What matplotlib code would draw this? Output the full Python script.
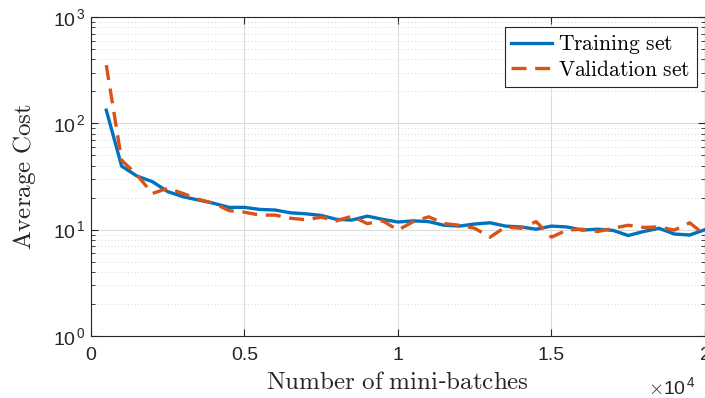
import matplotlib
matplotlib.use("Agg")
import matplotlib.pyplot as plt
import numpy as np
from matplotlib.ticker import FixedLocator, LogLocator, NullFormatter

plt.rcParams['font.family'] = ['Liberation Sans', 'DejaVu Sans']
plt.rcParams['mathtext.fontset'] = 'cm'

# mini-batch counts and average cost
batches = np.arange(500, 20001, 500)
train_cost = [133, 39.6, 31.9, 28.3, 22.8, 20.4, 19.0, 17.7, 16.2, 16.2,
              15.5, 15.3, 14.4, 14.1, 13.6, 12.5, 12.3, 13.4, 12.5, 11.8,
              12.1, 11.9, 11.0, 10.8, 11.3, 11.6, 10.8, 10.6, 10.1, 10.8,
              10.6, 9.9, 10.1, 9.85, 8.8, 9.6, 10.3, 9.1, 8.9, 10.0]
val_cost = [353, 45, 32.7, 21.9, 24.5, 21.9, 19.3, 17.7, 15.1, 14.6,
            13.7, 13.7, 12.8, 12.4, 13.1, 12.1, 13.4, 11.4, 12.1, 9.9,
            11.9, 13.2, 11.4, 11.0, 10.3, 8.5, 10.6, 10.3, 11.9, 8.5,
            9.9, 10.1, 9.6, 10.3, 11.0, 10.5, 10.6, 9.9, 11.6, 8.9]

xticks = [0, 5000, 10000, 15000, 20000]
xticklabels = ["0", "0.5", "1", "1.5", "2"]
yticks = [1, 10, 100, 1000]
yticklabels = [r"$\mathregular{10^{\,%d}}$" % i for i in range(4)]

fig = plt.figure(figsize=(7.05, 3.98), dpi=100)
ax = fig.add_axes([0.129, 0.156, 0.871, 0.801])

ax.plot(batches, train_cost, color='#0072BD', lw=2.4, label='Training set')
ax.plot(batches, val_cost, color='#D95319', lw=2.4, ls=(0, (4.5, 2.6)),
        label='Validation set')

ax.set_yscale('log')
ax.set_xlim(0, 20000)
ax.set_ylim(1, 1000)
ax.xaxis.set_major_locator(FixedLocator(xticks))
ax.set_xticklabels(xticklabels)
ax.yaxis.set_major_locator(FixedLocator(yticks))
ax.set_yticklabels(yticklabels)
ax.yaxis.set_minor_locator(LogLocator(base=10, subs=np.arange(2, 10)))
ax.yaxis.set_minor_formatter(NullFormatter())

ax.grid(which='major', color='#dcdcdc', lw=0.8)
ax.grid(which='minor', axis='y', color='#c8c8c8', lw=0.6, ls=(0, (1, 3)))
ax.set_axisbelow(True)

ax.tick_params(which='both', direction='in', top=True, right=True,
               labelsize=14, colors='#262626')
ax.tick_params(which='major', length=5)
ax.tick_params(which='minor', length=3)
ax.tick_params(axis='x', pad=8)
for s in ax.spines.values():
    s.set_color('#262626')
    s.set_linewidth(0.8)

ax.set_xlabel(r"$\mathrm{Number\ of\ mini}$-$\mathrm{batches}$", fontsize=18,
              color='#262626', labelpad=4)
ax.set_ylabel(r"$\mathrm{Average\ Cost}$", fontsize=18, color='#262626',
              labelpad=11)
ax.text(0.985, -0.125, r"$\times\mathregular{10^{\,4}}$", transform=ax.transAxes,
        ha='right', va='top', fontsize=14, color='#262626')

leg = ax.legend(loc='upper right', fancybox=False, edgecolor='#262626',
                framealpha=1, prop={'size': 15.5},
                handlelength=1.9, handletextpad=0.3, borderpad=0.3,
                labelspacing=0.15, borderaxespad=0,
                bbox_to_anchor=(0.987, 0.969))
for t in leg.get_texts():
    t.set_text(r"$\mathrm{%s}$" % t.get_text().replace(' ', r'\ '))
leg.get_frame().set_linewidth(0.8)

fig.savefig('out.png', dpi=100)
